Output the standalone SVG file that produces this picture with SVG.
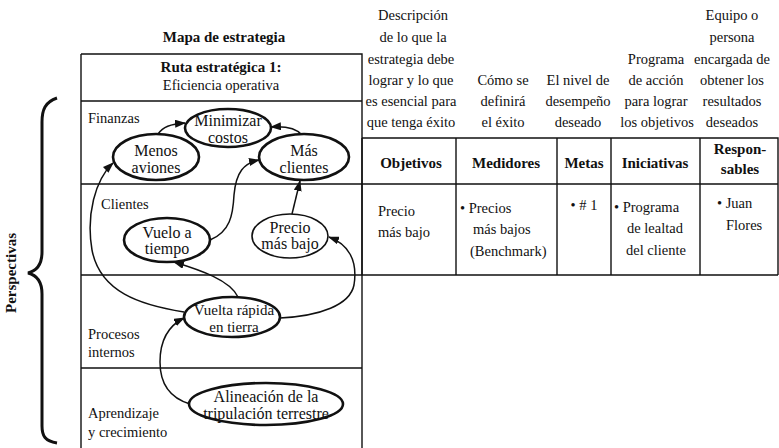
<svg xmlns="http://www.w3.org/2000/svg" width="779" height="448" viewBox="0 0 779 448">
<defs>
<style>
text{font-family:"Liberation Serif","Times New Roman",serif;fill:#111;}
.t{font-size:14.5px;}
.b{font-size:15px;font-weight:bold;}
.e{font-size:16px;}
.grid{stroke:#111;stroke-width:1.4;fill:none;}
.node{fill:#fff;stroke:#111;stroke-width:2.6;}
.thin{stroke-width:1.6;}
.conn{fill:none;stroke:#111;stroke-width:1.5;marker-end:url(#ah);}
</style>
<marker id="ah" markerWidth="11" markerHeight="8" refX="10" refY="4" orient="auto" markerUnits="userSpaceOnUse">
<path d="M0,0 L11,4 L0,8 Z" fill="#111"/>
</marker>
</defs>
<rect width="779" height="448" fill="#fff"/>

<g id="titles">
<text class="b" x="224" y="42" text-anchor="middle">Mapa de estrategia</text>
<text class="b" x="16" y="273" text-anchor="middle" transform="rotate(-90 16 273)">Perspectivas</text>
<path d="M57,98 C45,102 42,110 42,122 L42,252 C42,265 36,271 28,273 C36,275 42,281 42,294 L42,426 C42,436 45,441 57,443" fill="none" stroke="#111" stroke-width="3"/>
</g>

<g id="strategy-map-frame">
<path class="grid" d="M81,54 H362 V448 M81,54 V448 M81,101 H362 M81,184 H778 M81,275 H778 M81,368 H362"/>
<text class="b" x="221" y="72" text-anchor="middle">Ruta estratégica 1:</text>
<text class="t" x="221" y="90" text-anchor="middle">Eficiencia operativa</text>
<text class="t" x="88" y="123">Finanzas</text>
<text class="t" x="101" y="209">Clientes</text>
<text class="t" x="88" y="339">Procesos</text>
<text class="t" x="88" y="357">internos</text>
<text class="t" x="88" y="418">Aprendizaje</text>
<text class="t" x="88" y="437">y crecimiento</text>
</g>

<g id="table">
<path class="grid" d="M362,138 H778 V275 M362,138 V275 M456,138 V275 M557,138 V275 M611,138 V275 M700,138 V275"/>
<g class="t" text-anchor="middle">
<text x="413" y="20">Descripción</text>
<text x="413" y="42">de lo que la</text>
<text x="411" y="64">estrategia debe</text>
<text x="411" y="85">lograr y lo que</text>
<text x="411" y="106">es esencial para</text>
<text x="411" y="127">que tenga éxito</text>
<text x="503" y="85">Cómo se</text>
<text x="503" y="106">definirá</text>
<text x="503" y="127">el éxito</text>
<text x="578" y="85">El nivel de</text>
<text x="578" y="106">desempeño</text>
<text x="578" y="127">deseado</text>
<text x="656" y="64">Programa</text>
<text x="656" y="85">de acción</text>
<text x="656" y="106">para lograr</text>
<text x="657" y="127">los objetivos</text>
<text x="732" y="20">Equipo o</text>
<text x="732" y="42">persona</text>
<text x="732" y="64">encargada de</text>
<text x="732" y="85">obtener los</text>
<text x="732" y="106">resultados</text>
<text x="732" y="127">deseados</text>
</g>
<g class="b" text-anchor="middle">
<text x="411" y="168">Objetivos</text>
<text x="506" y="168">Medidores</text>
<text x="584" y="168">Metas</text>
<text x="655" y="168">Iniciativas</text>
<text x="740" y="154">Respon-</text>
<text x="740" y="174">sables</text>
</g>
<g class="t">
<text x="378" y="216">Precio</text>
<text x="378" y="237">más bajo</text>
<text x="460" y="213">• Precios</text>
<text x="473" y="234">más bajos</text>
<text x="470" y="256">(Benchmark)</text>
<text x="584" y="210" text-anchor="middle">• # 1</text>
<text x="614" y="212">• Programa</text>
<text x="627" y="233">de lealtad</text>
<text x="626" y="255">del cliente</text>
<text x="717" y="208">• Juan</text>
<text x="726" y="230">Flores</text>
</g>
</g>

<g id="connectors">
<path class="conn" d="M158,134 C163,127 170,124 185,123"/>
<path class="conn" d="M302,135 C296,128 285,126 271,127"/>
<path class="conn" d="M184,312 C140,305 100,292 92,250 C86,215 95,180 113,163"/>
<path class="conn" d="M210,240 C230,232 233,215 234,195 C236,172 244,163 259,160"/>
<path class="conn" d="M292,214 L300,181"/>
<path class="conn" d="M238,297 C230,280 200,270 174,262"/>
<path class="conn" d="M280,318 C320,316 350,305 354,285 C358,260 348,244 329,237"/>
<path class="conn" d="M190,404 C170,398 160,385 160,362 C160,340 168,326 184,318"/>
</g>

<g id="n-minimizar">
<ellipse class="node" cx="228" cy="128" rx="43" ry="19"/>
<text class="e" x="228" y="126" text-anchor="middle">Minimizar</text>
<text class="e" x="228" y="143" text-anchor="middle">costos</text>
</g>
<g id="n-menos">
<ellipse class="node" cx="156" cy="157" rx="43" ry="23"/>
<text class="e" x="156" y="156" text-anchor="middle">Menos</text>
<text class="e" x="156" y="173" text-anchor="middle">aviones</text>
</g>
<g id="n-mas">
<ellipse class="node" cx="304" cy="157" rx="45" ry="23"/>
<text class="e" x="304" y="156" text-anchor="middle">Más</text>
<text class="e" x="304" y="173" text-anchor="middle">clientes</text>
</g>
<g id="n-vuelo">
<ellipse class="node" cx="167" cy="240" rx="43" ry="22"/>
<text class="e" x="167" y="238" text-anchor="middle">Vuelo a</text>
<text class="e" x="167" y="254" text-anchor="middle">tiempo</text>
</g>
<g id="n-precio">
<ellipse class="node thin" cx="290" cy="236" rx="38" ry="22"/>
<text class="e" x="290" y="233" text-anchor="middle">Precio</text>
<text class="e" x="290" y="249" text-anchor="middle">más bajo</text>
</g>
<g id="n-vuelta">
<ellipse class="node" cx="232" cy="317" rx="48" ry="20"/>
<text class="e" x="234" y="315" text-anchor="middle" style="font-size:15px">Vuelta rápida</text>
<text class="e" x="234" y="332" text-anchor="middle" style="font-size:15px">en tierra</text>
</g>
<g id="n-alineacion">
<ellipse class="node" cx="266" cy="404" rx="77" ry="21"/>
<text class="e" x="266" y="402" text-anchor="middle">Alineación de la</text>
<text class="e" x="266" y="419" text-anchor="middle">tripulación terrestre</text>
</g>
</svg>
